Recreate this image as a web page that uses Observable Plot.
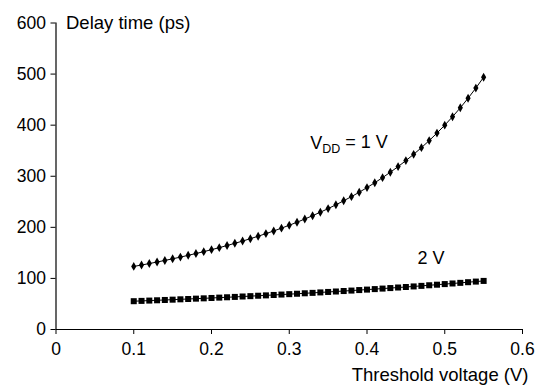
<!DOCTYPE html>
<html><head><meta charset="utf-8">
<script src="https://cdn.jsdelivr.net/npm/d3@7"></script>
<script src="https://cdn.jsdelivr.net/npm/@observablehq/plot@0.6"></script>
<style>body{margin:0;background:#fff}#chart svg{display:block}</style>
</head><body><div id="chart"></div>
<script>
const thresholdV = [0.10,0.11,0.12,0.13,0.14,0.15,0.16,0.17,0.18,0.19,0.20,0.21,0.22,0.23,0.24,0.25,0.26,0.27,0.28,0.29,0.30,0.31,0.32,0.33,0.34,0.35,0.36,0.37,0.38,0.39,0.40,0.41,0.42,0.43,0.44,0.45,0.46,0.47,0.48,0.49,0.50,0.51,0.52,0.53,0.54,0.55];
const delay1V = [123.5,126.2,129.1,132.1,135.2,138.4,141.7,145.2,148.7,152.4,156.3,160.2,164.4,168.7,173.1,177.8,182.6,187.7,192.9,198.4,204.1,210.0,216.3,222.8,229.6,236.7,244.1,252.0,260.1,268.7,277.8,287.3,297.3,307.8,318.9,330.6,342.9,356.0,369.8,384.5,400.0,416.5,434.0,452.7,472.6,493.8];
const delay2V = [55.4,56.0,56.6,57.2,57.8,58.4,59.1,59.7,60.4,61.0,61.7,62.4,63.1,63.8,64.6,65.3,66.1,66.8,67.6,68.4,69.2,70.0,70.9,71.7,72.6,73.5,74.4,75.3,76.2,77.2,78.1,79.1,80.1,81.1,82.2,83.2,84.3,85.4,86.6,87.7,88.9,90.1,91.3,92.6,93.8,95.1];
const xTicks = [0,0.1,0.2,0.3,0.4,0.5,0.6];
const yTicks = [0,100,200,300,400,500,600];
const xTitle = "Threshold voltage (V)";
const yTitle = "Delay time (ps)";
const seriesLabels = ["VDD = 1 V", "2 V"];
const seriesLabelX = [0.327, 0.465];
const seriesLabelY = [364, 139];

const s1 = thresholdV.map((v, i) => ({vt: v, d: delay1V[i]}));
const s2 = thresholdV.map((v, i) => ({vt: v, d: delay2V[i]}));
const labels = seriesLabels.map((t, i) => ({t, x: seriesLabelX[i], y: seriesLabelY[i]}));

const font = "Liberation Sans, Arial, Helvetica, sans-serif";
const chart = Plot.plot({
  width: 552, height: 387,
  marginLeft: 55.5, marginRight: 30, marginTop: 22.5, marginBottom: 58,
  style: {fontFamily: font, fontSize: "17.5px", color: "#000", background: "#fff"},
  x: {domain: [0, 0.6]},
  y: {domain: [0, 600]},
  marks: [
    Plot.axisX({ticks: xTicks, tickSize: 5, tickPadding: 8, tickFormat: d => String(d), label: null, fontSize: 17.5}),
    Plot.axisY({ticks: yTicks, tickSize: 5, tickPadding: 5, tickFormat: d => String(d), label: null, fontSize: 17.5}),
    Plot.ruleX([0], {stroke: "#000", strokeWidth: 1.2}),
    Plot.ruleY([0], {stroke: "#000", strokeWidth: 1.2}),
    Plot.line(s1, {x: "vt", y: "d", stroke: "#000", strokeWidth: 1}),
    Plot.line(s2, {x: "vt", y: "d", stroke: "#000", strokeWidth: 1}),
    Plot.dot(s1, {x: "vt", y: "d", symbol: "diamond", r: 2.7, fill: "#000", stroke: "none"}),
    Plot.dot(s2, {x: "vt", y: "d", symbol: "square", r: 3.4, fill: "#000", stroke: "none"}),
    Plot.text(labels, {x: "x", y: "y", text: "t", textAnchor: "start", fontSize: 18, fill: "#000", className: "series-label"}),
    Plot.text([xTitle], {frameAnchor: "bottom-right", dx: 6, dy: 51, textAnchor: "end", fontSize: 18.5, fill: "#000"}),
    Plot.text([yTitle], {frameAnchor: "top-left", dx: 10, textAnchor: "start", lineAnchor: "middle", fontSize: 18.5, fill: "#000"})
  ]
});
document.getElementById("chart").appendChild(chart);
d3.select(chart).selectAll("text").each(function() {
  if (this.textContent === "VDD = 1 V") {
    const el = d3.select(this);
    el.text("");
    el.append("tspan").text("V");
    el.append("tspan").attr("dy", "0.3em").attr("font-size", "12.5px").text("DD");
    el.append("tspan").attr("dy", "-0.3em").text(" = 1 V");
  }
});
</script>
</body></html>
